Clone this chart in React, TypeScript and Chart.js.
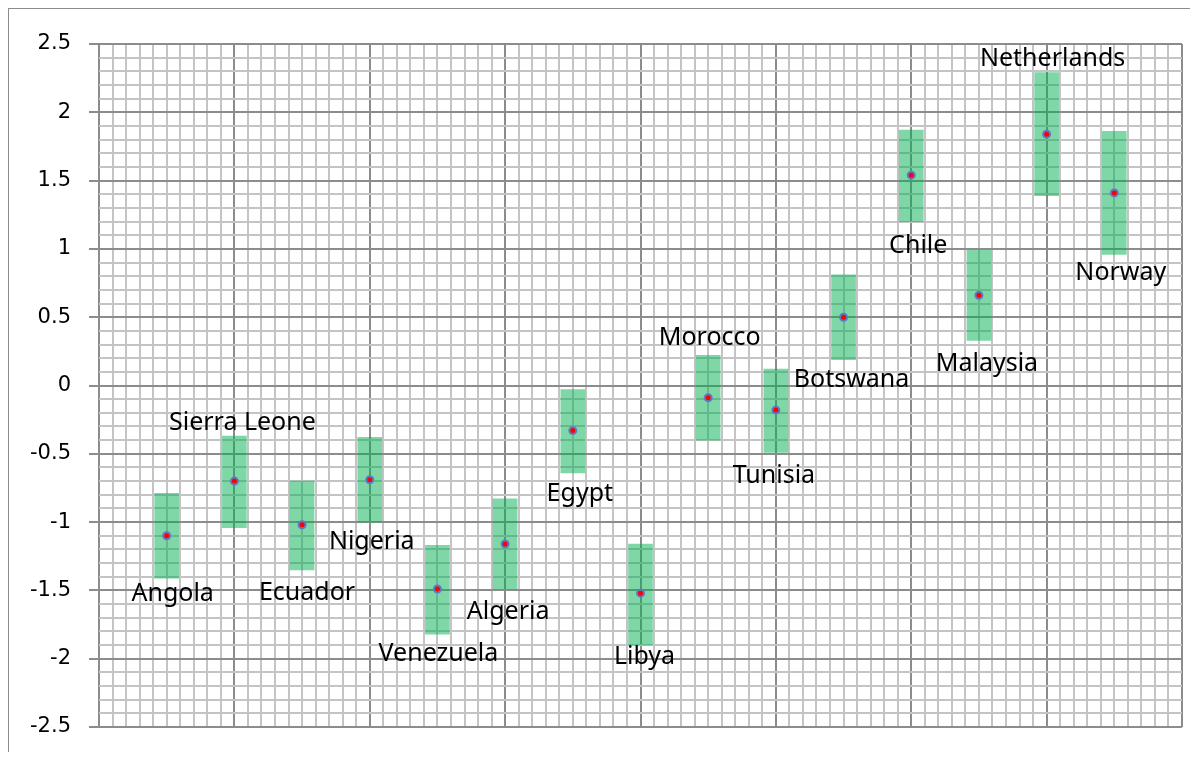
import React, { useEffect, useRef } from "react";
import { Chart, registerables } from "chart.js";

Chart.register(...registerables);

// ---- Data ----
const countries = [
  "Angola", "Sierra Leone", "Ecuador", "Nigeria", "Venezuela", "Algeria", "Egypt", "Libya",
  "Morocco", "Tunisia", "Botswana", "Chile", "Malaysia", "Netherlands", "Norway",
];
const xPositions = [0.5, 1, 1.5, 2, 2.5, 3, 3.5, 4, 4.5, 5, 5.5, 6, 6.5, 7, 7.5];
const estimates = [-1.10, -0.70, -1.02, -0.69, -1.49, -1.16, -0.33, -1.52, -0.09, -0.18, 0.50, 1.54, 0.66, 1.84, 1.41];
const lowerBounds = [-1.41, -1.04, -1.35, -1.00, -1.82, -1.49, -0.64, -1.90, -0.40, -0.49, 0.19, 1.20, 0.33, 1.39, 0.96];
const upperBounds = [-0.79, -0.37, -0.70, -0.38, -1.17, -0.83, -0.03, -1.16, 0.22, 0.12, 0.81, 1.87, 0.99, 2.29, 1.86];
const yTickLabels = ["-2.5", "-2", "-1.5", "-1", "-0.5", "0", "0.5", "1", "1.5", "2", "2.5"];

// ---- Label placement (pixel offsets from the point: dx, baseline dy) ----
const labelOffsets: [number, number][] = [
  [6, 65], [8, -51], [5, 75], [2, 69], [1, 72], [3, 75], [7, 70], [4, 71],
  [1.5, -53], [-2, 73], [8, 70], [7, 78], [8, 76], [6, -68], [6.5, 87],
];

const MAJOR = "#8c8c8c";
const MINOR = "#c4c4c4";

const isMajorY = (v: number) => Math.abs(Math.round(v * 10)) % 5 === 0;
const isMajorX = (v: number) => Math.abs(Math.round(v * 10)) % 10 === 0;

const labelPlugin = {
  id: "countryLabels",
  afterDatasetsDraw(chart: any) {
    const { ctx, scales } = chart;
    ctx.save();
    ctx.font = '25px "Noto Sans"';
    ctx.fillStyle = "#000";
    ctx.textAlign = "center";
    ctx.textBaseline = "alphabetic";
    countries.forEach((name, i) => {
      const px = scales.x.getPixelForValue(xPositions[i]) + labelOffsets[i][0];
      const py = scales.y.getPixelForValue(estimates[i]) + labelOffsets[i][1];
      ctx.fillText(name, px, py);
    });
    ctx.restore();
  },
};

export default function App() {
  const ref = useRef<HTMLCanvasElement | null>(null);

  useEffect(() => {
    if (!ref.current) return;
    const chart = new Chart(ref.current, {
      type: "scatter",
      data: {
        datasets: [
          {
            type: "scatter",
            label: "Estimate",
            data: xPositions.map((x, i) => ({ x, y: estimates[i] })),
            pointRadius: 3.5,
            pointBorderWidth: 2,
            backgroundColor: "#ff0000",
            borderColor: "#5b7bc6",
            order: 0,
          } as any,
          {
            type: "bar",
            label: "Range",
            data: xPositions.map((x, i) => ({ x, y: [lowerBounds[i], upperBounds[i]] })),
            backgroundColor: "rgba(0,176,80,0.5)",
            borderWidth: 0,
            barThickness: 24,
            order: 1,
          } as any,
        ],
      },
      plugins: [labelPlugin],
      options: {
        responsive: false,
        animation: false,
        events: [],
        layout: { padding: { top: 35, right: 16, bottom: 25, left: 0 } },
        plugins: { legend: { display: false }, tooltip: { enabled: false } },
        scales: {
          x: {
            type: "linear",
            min: 0,
            max: 8,
            offset: false,
            border: { display: false },
            grid: {
              offset: false,
              drawTicks: false,
              color: (c: any) => (isMajorX(c.tick.value) ? MAJOR : MINOR),
              lineWidth: 2,
            },
            ticks: { stepSize: 0.1, display: false, autoSkip: false },
            afterFit: (s: any) => { s.height = 0; s.paddingLeft = 0; s.paddingRight = 0; },
          },
          y: {
            type: "linear",
            min: -2.5,
            max: 2.5,
            border: { display: false },
            grid: {
              color: (c: any) => (isMajorY(c.tick.value) ? MAJOR : MINOR),
              tickColor: (c: any) => (isMajorY(c.tick.value) ? MAJOR : "rgba(0,0,0,0)"),
              lineWidth: 2,
              tickLength: 10,
            },
            ticks: {
              stepSize: 0.1,
              autoSkip: false,
              padding: 18,
              color: "#000",
              font: { family: "DejaVu Sans", size: 21 },
              callback: (v: any) => {
                if (!isMajorY(v)) return "";
                const idx = Math.round((v + 2.5) * 2);
                return yTickLabels[idx];
              },
            },
            afterFit: (s: any) => { s.width = 90; s.paddingTop = 0; s.paddingBottom = 0; },
          },
        },
      },
    });
    return () => chart.destroy();
  }, []);

  return (
    <div
      style={{
        width: 1190,
        height: 744,
        boxSizing: "border-box",
        borderLeft: "1px solid #8c8c8c",
        borderTop: "1px solid #8c8c8c",
        overflow: "hidden",
        background: "#fff",
      }}
    >
      <canvas ref={ref} width={1189} height={743} style={{ display: "block" }} />
    </div>
  );
}
